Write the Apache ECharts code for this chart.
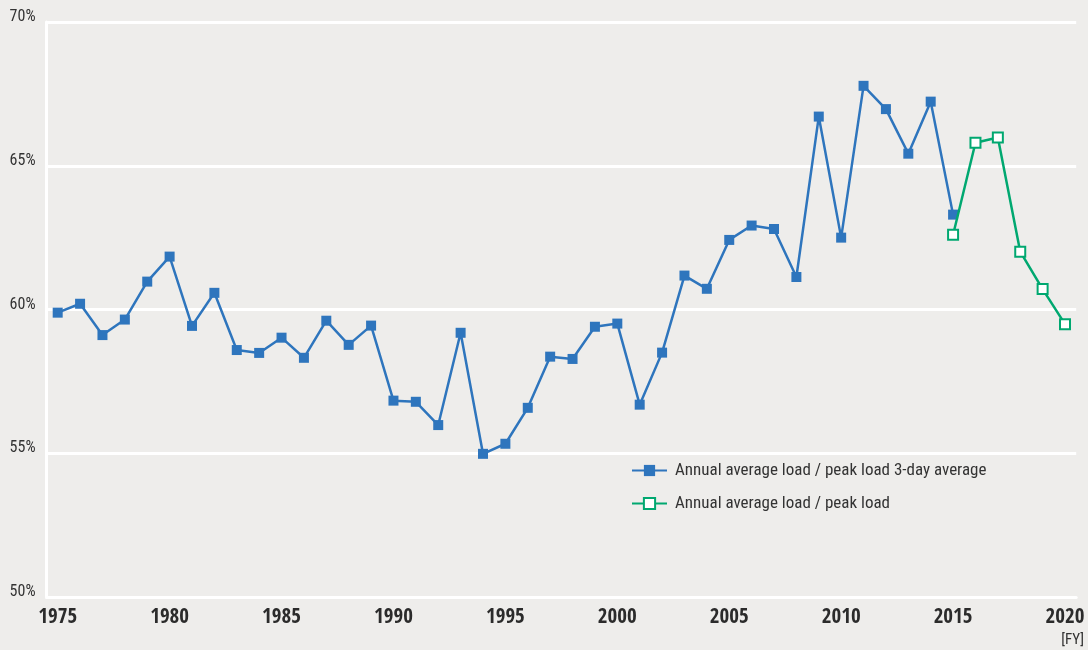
<!DOCTYPE html>
<html>
<head>
<meta charset="utf-8">
<script src="https://cdn.jsdelivr.net/npm/echarts@6/dist/echarts.min.js"></script>
<style>
html,body{margin:0;padding:0;background:#EEEDEB;}
#c{width:1088px;height:650px;}
</style>
</head>
<body>
<div id="c"></div>
<script>
const years = [];
for (let y = 1975; y <= 2020; y++) years.push(String(y));

const blueName = 'Annual average load / peak load 3-day average';
const greenName = 'Annual average load / peak load';

// 1975 .. 2015
const blueValues = [
  59.89, 60.20, 59.11, 59.65, 60.97, 61.84, 59.43, 60.58, 58.59, 58.49,
  59.02, 58.32, 59.61, 58.77, 59.44, 56.83, 56.79, 55.98, 59.19, 54.98,
  55.33, 56.58, 58.36, 58.28, 59.40, 59.51, 56.69, 58.50, 61.18, 60.72,
  62.42, 62.92, 62.80, 61.13, 66.71, 62.50, 67.78, 66.97, 65.42, 67.23,
  63.30
];
// 2015 .. 2020
const greenValues = [62.60, 65.80, 65.98, 62.01, 60.71, 59.49];

const yTicks = [50, 55, 60, 65, 70];

const blueData = years.map((y, i) => i < blueValues.length ? blueValues[i] : null);
const greenData = years.map((y, i) => {
  const k = i - 40;
  return k >= 0 && k < greenValues.length ? greenValues[k] : null;
});

const FONT_B = '"Open Sans Condensed", "Roboto Condensed", sans-serif';
const FONT = '"Roboto Condensed", "Liberation Sans", sans-serif';
const chart = echarts.init(document.getElementById('c'));
chart.setOption({
  backgroundColor: '#EEEDEB',
  animation: false,
  grid: { left: 46.5, right: 11.8, top: 22, bottom: 53, containLabel: false },
  xAxis: {
    type: 'category',
    data: years,
    boundaryGap: true,
    axisLine: { show: true, lineStyle: { color: '#FFFFFF', width: 3 } },
    axisTick: { show: false },
    axisLabel: {
      interval: 4,
      color: '#2B2B2B',
      fontFamily: FONT_B,
      fontWeight: 'bold',
      fontSize: 21,
      margin: 10
    },
    splitLine: { show: false }
  },
  yAxis: {
    type: 'value',
    min: yTicks[0],
    max: yTicks[yTicks.length - 1],
    interval: 5,
    axisLine: { show: true, lineStyle: { color: '#FFFFFF', width: 3 } },
    axisTick: { show: false },
    axisLabel: {
      formatter: v => v + '%',
      color: '#333333',
      fontFamily: FONT,
      fontSize: 16,
      margin: 11,
      verticalAlign: 'bottom',
      lineHeight: 10
    },
    splitLine: { show: true, lineStyle: { color: '#FFFFFF', width: 3 } }
  },
  legend: {
    orient: 'vertical',
    left: 626,
    top: 457,
    itemWidth: 35,
    itemHeight: 14,
    itemGap: 16,
    textStyle: { color: '#333333', fontFamily: FONT, fontSize: 17, padding: [0, 0, 0, 3] },
    data: [blueName, greenName]
  },
  series: [
    {
      name: blueName,
      type: 'line',
      data: blueData,
      symbol: 'rect',
      symbolSize: 10,
      showAllSymbol: true,
      lineStyle: { color: '#2E75BD', width: 2.5 },
      itemStyle: { color: '#2E75BD' },
      z: 3
    },
    {
      name: greenName,
      type: 'line',
      data: greenData,
      symbol: 'rect',
      symbolSize: 10,
      showAllSymbol: true,
      lineStyle: { color: '#00A870', width: 2.5 },
      itemStyle: { color: '#FFFFFF', borderColor: '#00A870', borderWidth: 2 },
      z: 4
    }
  ],
  graphic: [
    {
      type: 'text',
      right: 4,
      top: 633,
      style: { text: '[FY]', fill: '#333333', font: '15px ' + FONT, textAlign: 'right' }
    }
  ]
});
</script>
</body>
</html>
